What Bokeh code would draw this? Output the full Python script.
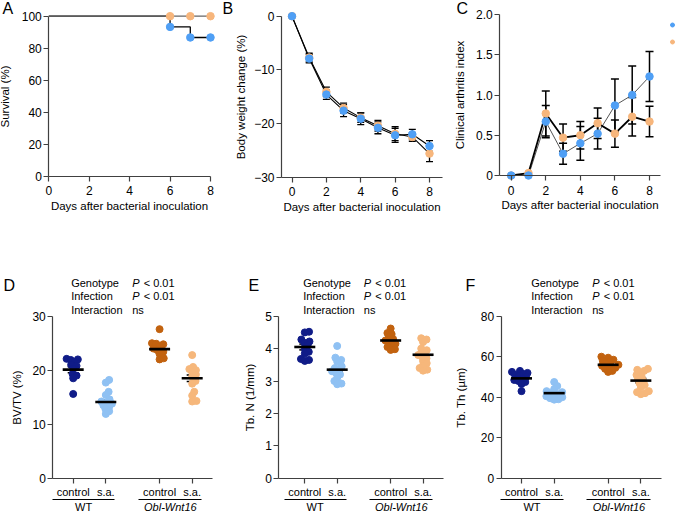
import math
from bokeh.plotting import figure
from bokeh.layouts import column, row
from bokeh.models import (Range1d, FixedTicker, Label, Legend, LegendItem, LinearAxis,
                          Whisker, TeeHead, ColumnDataSource)
from bokeh.embed import file_html
from bokeh.resources import INLINE

FONT = "Liberation Sans"
AXC = "#404040"
BLUE = "#4f9ff5"
ORANGE = "#f7b67c"

# ---------------- data ----------------
# A: survival
surv_days = [0, 6, 7, 8]
surv_wt = [100, 93.3, 86.7, 86.7]
surv_obl = [100, 100, 100, 100]
a_xticks = [0, 2, 4, 6, 8]
a_yticks = [0, 20, 40, 60, 80, 100]

# B: body weight change (%)
days = [0, 1, 2, 3, 4, 5, 6, 7, 8]
bw_wt = [0, -7.9, -14.6, -17.6, -19.1, -20.8, -22.2, -22.0, -24.2]
bw_wt_sem = [0, 0.8, 0.9, 1.1, 1.1, 1.1, 1.3, 0.9, 1.0]
bw_obl = [0, -7.7, -14.1, -17.1, -18.9, -20.4, -21.9, -22.5, -25.6]
bw_obl_sem = [0, 0.8, 0.9, 0.9, 0.9, 1.0, 1.3, 0.8, 1.5]
b_xticks = [0, 2, 4, 6, 8]
b_yticks = [0, -10, -20, -30]

# C: clinical arthritis index
ca_wt = [0, 0.0, 0.67, 0.27, 0.40, 0.52, 0.87, 1.00, 1.23]
ca_wt_sem = [0, 0, 0.20, 0.13, 0.21, 0.19, 0.33, 0.36, 0.31]
ca_obl = [0, 0.03, 0.77, 0.47, 0.50, 0.65, 0.52, 0.73, 0.67]
ca_obl_sem = [0, 0, 0.28, 0.17, 0.17, 0.19, 0.17, 0.24, 0.19]
c_xticks = [0, 2, 4, 6, 8]
c_yticks = [0, 0.5, 1.0, 1.5, 2.0]
c_ytick_labels = ["0", "0.5", "1.0", "1.5", "2.0"]
# legend texts lie beyond the right edge of the reference picture: only markers show
legend_labels = ["", ""]

# D-F: bone parameters
conditions = ["control", "s.a.", "control", "s.a."]
genotypes = ["WT", "Obl-Wnt16"]
grp_colors = ["#101c88", "#8fc1f3", "#c2620f", "#f6b77b"]

bvtv = [
    [22.1, 22.0, 21.9, 21.5, 21.0, 20.8, 20.3, 19.3, 19.0, 18.5, 15.6],
    [18.2, 17.7, 16.0, 15.4, 14.6, 14.2, 14.0, 13.8, 13.5, 13.2, 12.8, 12.4, 11.9],
    [27.6, 25.0, 24.9, 24.8, 24.4, 24.0, 23.7, 23.4, 23.0, 22.2, 22.0],
    [22.8, 20.6, 20.2, 20.0, 19.6, 19.2, 18.8, 18.0, 17.5, 16.0, 15.3, 14.3, 14.2],
]
bvtv_mean = [20.1, 14.1, 23.9, 18.5]
bvtv_sem = [0.55, 0.45, 0.45, 0.6]
d_yticks = [0, 10, 20, 30]

tbn = [
    [4.52, 4.50, 4.28, 4.22, 4.18, 4.10, 4.00, 3.90, 3.85, 3.68, 3.65, 3.62],
    [4.08, 3.72, 3.65, 3.60, 3.45, 3.40, 3.35, 3.30, 3.25, 3.20, 3.10, 3.00, 2.92, 2.90],
    [4.62, 4.48, 4.45, 4.35, 4.30, 4.25, 4.22, 4.15, 4.10, 4.05, 3.98, 3.96],
    [4.32, 4.28, 4.20, 4.00, 3.95, 3.88, 3.80, 3.75, 3.70, 3.62, 3.55, 3.48, 3.40, 3.35, 3.32],
]
tbn_mean = [4.05, 3.35, 4.25, 3.81]
tbn_sem = [0.09, 0.07, 0.06, 0.07]
e_yticks = [0, 1, 2, 3, 4, 5]

tbth = [
    [53.0, 52.5, 52.0, 51.5, 51.0, 50.5, 50.0, 49.0, 48.5, 48.0, 47.5, 46.5, 43.0],
    [47.5, 45.5, 44.0, 43.0, 42.5, 42.0, 41.5, 41.0, 40.5, 40.0, 39.5, 39.0, 38.8],
    [60.0, 59.5, 58.5, 58.0, 57.5, 56.5, 56.0, 55.5, 55.0, 54.5, 54.0, 53.0, 52.5],
    [54.0, 53.5, 53.0, 52.0, 51.0, 50.0, 49.0, 48.0, 47.0, 46.0, 45.0, 43.0, 42.0, 41.5, 42.5],
]
tbth_mean = [49.3, 42.0, 56.0, 48.2]
tbth_sem = [0.8, 0.6, 0.6, 1.1]
f_yticks = [0, 20, 40, 60, 80]

stat_terms = ["Genotype", "Infection", "Interaction"]
stat_results = ["P < 0.01", "P < 0.01", "ns"]

# ---------------- layout helpers ----------------
cat_pos = [1.0, 2.0, 3.65, 4.65]
grp_label_pos = [1.32, 3.98]
grp_line_span = [(0.36, 2.28), (3.0, 4.95)]


class Frame:
    """Maps page pixels to data values for a figure whose frame fills it."""
    def __init__(self, ox, oy, w, h, xa, pxa, xb, pxb, ya, pya, yb, pyb):
        self.ox, self.oy, self.w, self.h = ox, oy, w, h
        self.ux = (pxb - pxa) / (xb - xa)
        self.uy = (pya - pyb) / (yb - ya)
        self.xa, self.pxa, self.ya, self.pya = xa, pxa, ya, pya

    def x(self, px):
        return self.xa + (px - self.pxa) / self.ux

    def y(self, py):
        return self.ya + (self.pya - py) / self.uy

    def sx(self, px):
        return px - self.ox

    def sy(self, py):
        return self.oy + self.h - py


def make_fig(fr):
    p = figure(width=fr.w, height=fr.h, min_border_left=0, min_border_right=0,
               min_border_top=0, min_border_bottom=0,
               x_range=Range1d(fr.x(fr.ox), fr.x(fr.ox + fr.w)),
               y_range=Range1d(fr.y(fr.oy + fr.h), fr.y(fr.oy)),
               output_backend="svg", toolbar_location=None)
    p.grid.grid_line_color = None
    p.outline_line_color = None
    return p


def style_axis(ax, label_size="12px"):
    ax.axis_line_color = AXC
    ax.axis_line_width = 1.2
    ax.major_tick_line_color = AXC
    ax.major_tick_line_width = 1.2
    ax.major_tick_out = 5
    ax.major_tick_in = 0
    ax.minor_tick_line_color = None
    ax.major_label_text_font = FONT
    ax.major_label_text_font_size = label_size
    ax.major_label_text_color = "black"
    ax.axis_label_text_font = FONT
    ax.axis_label_text_font_size = "11.5px"
    ax.axis_label_text_font_style = "normal"
    ax.axis_label_text_color = "black"


def setup_axes(p, fr, x_axis_py, y_axis_px, x_end_px, ybounds, xticks, yticks,
               xlabel, ylabel, y_standoff, x_standoff=5, xlab_standoff=1):
    xa = p.xaxis[0]
    ya = p.yaxis[0]
    style_axis(xa)
    style_axis(ya)
    xa.fixed_location = fr.y(x_axis_py)
    xa.bounds = (fr.x(y_axis_px), fr.x(x_end_px))
    ya.fixed_location = fr.x(y_axis_px)
    ya.bounds = ybounds
    xa.ticker = FixedTicker(ticks=xticks)
    ya.ticker = FixedTicker(ticks=yticks)
    xa.major_label_standoff = int(x_standoff)
    ya.major_label_standoff = 2
    if xlabel:
        xa.axis_label = xlabel
        xa.axis_label_standoff = int(xlab_standoff)
    ya.axis_label = ylabel
    ya.axis_label_standoff = int(round(y_standoff))


def text(p, fr, px, py, s, size="11px", style="normal", align="left"):
    p.add_layout(Label(x=fr.sx(px), y=fr.sy(py), x_units="screen", y_units="screen",
                       text=s, text_font=FONT, text_font_size=size,
                       text_font_style=style, text_align=align,
                       text_baseline="middle", text_color="black"))


def whiskers(p, xs, ms, ss, cap, lw=1.3):
    keep = [i for i in range(len(xs)) if ss[i] > 0]
    src = ColumnDataSource(dict(
        x=[xs[i] for i in keep],
        lo=[ms[i] - ss[i] for i in keep],
        hi=[ms[i] + ss[i] for i in keep]))
    p.add_layout(Whisker(base="x", lower="lo", upper="hi", source=src,
                         dimension="height", line_color="black", line_width=lw,
                         upper_head=TeeHead(size=cap, line_color="black", line_width=lw),
                         lower_head=TeeHead(size=cap, line_color="black", line_width=lw)))


def swarm(vals, xpx, ypx, d):
    order = sorted(range(len(vals)), key=lambda i: vals[i])
    placed = []
    offs = [0.0] * len(vals)
    for i in order:
        y = vals[i] * ypx
        cands = [0.0]
        for (px, py) in placed:
            dy = abs(py - y)
            if dy < d:
                dx = math.sqrt(d * d - dy * dy)
                cands += [px + dx, px - dx]
        cands.sort(key=abs)
        for c in cands:
            if all((c - px) ** 2 + (y - py) ** 2 >= d * d - 1e-6 for px, py in placed):
                offs[i] = c
                placed.append((c, y))
                break
    return [o / xpx for o in offs]


DAYS_LABEL = "Days after bacterial inoculation"

# ---------------- A ----------------
fa = Frame(0, 0, 220, 250, 0, 48.3, 8, 210.0, 100, 15.7, 0, 175.7)
pa = make_fig(fa)
pa.step(surv_days, surv_wt, mode="after", line_color="black", line_width=1.3)
pa.step(surv_days, surv_obl, mode="after", line_color="#666666", line_width=1.3)
pa.scatter(surv_days[1:], surv_obl[1:], size=7.5, color=ORANGE)
pa.scatter(surv_days[1:], surv_wt[1:], size=7.5, color=BLUE)
setup_axes(pa, fa, 175.7, 48.3, 210.0, (0, 100), a_xticks, a_yticks,
           DAYS_LABEL, "Survival (%)", 7)
text(pa, fa, 2, 8, "A", size="16px")

# ---------------- B ----------------
fb = Frame(220, 0, 226, 250, 0, 291.5, 8, 429.0, 0, 15.7, -30, 176.7)
pb = make_fig(fb)
pb.line(days, bw_obl, line_color="black", line_width=1.1)
pb.line(days, bw_wt, line_color="black", line_width=1.1)
pb.scatter(days, bw_obl, size=7.5, color=ORANGE)
whiskers(pb, days, bw_obl, bw_obl_sem, 7)
pb.scatter(days, bw_wt, size=7.5, color=BLUE)
whiskers(pb, days, bw_wt, bw_wt_sem, 7)
setup_axes(pb, fb, 176.7, 281.0, 442.0, (-30, 0), b_xticks, b_yticks,
           DAYS_LABEL, "Body weight change (%)", 4)
text(pb, fb, 222, 8, "B", size="16px")

# ---------------- C ----------------
fc = Frame(446, 0, 230, 250, 0, 510.7, 8, 649.0, 2.0, 14.0, 0, 175.0)
pc = make_fig(fc)
whiskers(pc, days, ca_wt, ca_wt_sem, 8, lw=1.5)
whiskers(pc, days, ca_obl, ca_obl_sem, 8, lw=1.5)
pc.line(days, ca_wt, line_color="#555555", line_width=1.0)
pc.line(days, ca_obl, line_color="black", line_width=1.8)
r_obl = pc.scatter(days, ca_obl, size=7.5, color=ORANGE)
r_wt = pc.scatter(days, ca_wt, size=7.5, color=BLUE)
setup_axes(pc, fc, 175.0, 499.3, 659.5, (0, 2.0), c_xticks, c_yticks,
           DAYS_LABEL, "Clinical arthritis index", 7)
pc.yaxis[0].major_label_overrides = dict(zip(c_yticks, c_ytick_labels))
text(pc, fc, 456, 8, "C", size="16px")
leg = Legend(items=[LegendItem(label=legend_labels[0], renderers=[r_wt]),
                    LegendItem(label=legend_labels[1], renderers=[r_obl])],
             location=(fc.sx(667), fc.sy(47.5)), padding=0, margin=0, spacing=4,
             glyph_width=10, glyph_height=13, label_standoff=0, label_width=0,
             label_height=13, label_text_font=FONT, label_text_font_size="11px",
             border_line_color=None, background_fill_alpha=0)
pc.add_layout(leg)


# ---------------- D-F ----------------
def dot_panel(fr, y_axis_px, x_end_px, ymax, data, means, sems, yticks, ylabel,
              ylab_standoff, letter, letter_px, stat_px, p_px):
    p = make_fig(fr)
    for k in range(4):
        offs = swarm(data[k], fr.ux, fr.uy, 4.3)
        p.scatter([cat_pos[k] + o for o in offs], data[k], size=7,
                  fill_color=grp_colors[k], line_color=grp_colors[k])
    p.scatter(cat_pos, means, marker="dash", size=21, line_width=2.6,
              line_color="black")
    whiskers(p, cat_pos, means, sems, 11, lw=1.5)
    setup_axes(p, fr, 477.7, y_axis_px, x_end_px, (0, ymax), cat_pos, yticks,
               None, ylabel, ylab_standoff, x_standoff=3)
    p.xaxis[0].major_label_overrides = {cat_pos[k]: conditions[k] for k in range(4)}
    p.xaxis[0].major_label_text_font_size = "11px"
    # genotype group rows: an axis segment per genotype, labelled below
    for g in range(2):
        gx = LinearAxis(fixed_location=fr.y(499.0), bounds=grp_line_span[g],
                        ticker=FixedTicker(ticks=[grp_label_pos[g]]),
                        major_label_overrides={grp_label_pos[g]: genotypes[g]})
        style_axis(gx, label_size="11px")
        gx.axis_line_color = "black"
        gx.axis_line_width = 1.1
        gx.major_tick_out = 0
        gx.major_tick_line_color = None
        gx.major_label_standoff = 1
        gx.major_label_text_font_style = "normal" if g == 0 else "italic"
        p.add_layout(gx, "below")
    # statistics block
    for i in range(3):
        yy = 282.3 + 13.5 * i
        text(p, fr, stat_px, yy, stat_terms[i])
        res = stat_results[i]
        if res.startswith("P "):
            text(p, fr, p_px, yy, "P", style="italic")
            text(p, fr, p_px + 11.5, yy, res[2:])
        else:
            text(p, fr, p_px, yy, res)
    text(p, fr, letter_px, 285, letter, size="16px")
    return p


fd = Frame(0, 250, 220, 264, 1, 72.7, 2, 105.3, 30, 315.7, 0, 477.7)
fe = Frame(220, 250, 226, 264, 1, 304.3, 2, 336.7, 5, 315.7, 0, 477.7)
ff = Frame(446, 250, 230, 264, 1, 521.0, 2, 553.7, 80, 315.7, 0, 477.7)

pd_ = dot_panel(fd, 52.3, 212.0, 30, bvtv, bvtv_mean, bvtv_sem, d_yticks,
                "BV/TV (%)", 6, "D", 3, 70.7, 131.7)
pe = dot_panel(fe, 278.3, 443.0, 5, tbn, tbn_mean, tbn_sem, e_yticks,
               "Tb. N (1/mm)", 6, "E", 248, 302.7, 363.3)
pf = dot_panel(ff, 500.7, 661.0, 80, tbth, tbth_mean, tbth_sem, f_yticks,
               "Tb. Th (µm)", 11, "F", 465, 530.7, 591.7)

layout = column(row(pa, pb, pc, spacing=0), row(pd_, pe, pf, spacing=0), spacing=0)
open("out.html", "w").write(file_html(layout, INLINE))
